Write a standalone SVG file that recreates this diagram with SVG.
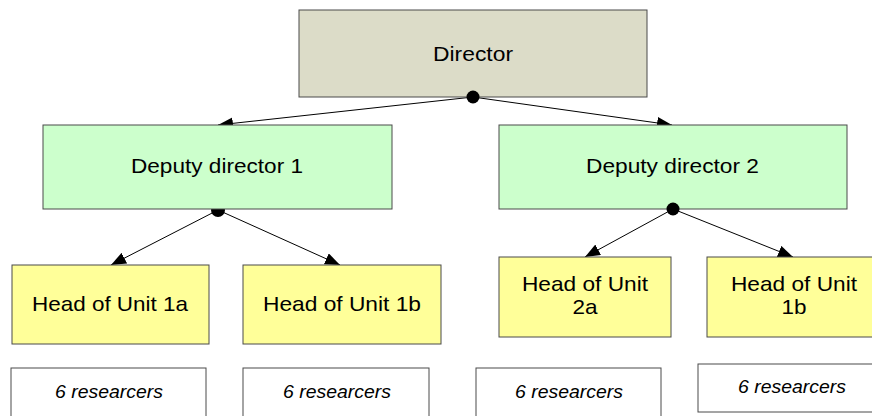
<svg xmlns="http://www.w3.org/2000/svg" width="872" height="416" viewBox="0 0 872 416">
  <style>
    .box { stroke: #4a4a4a; stroke-width: 1; }
    .dir { fill: #dcdcc8; }
    .dep { fill: #ccffcc; }
    .head { fill: #ffff99; }
    .res { fill: #ffffff; }
    .lbl { font-family: "Liberation Sans", Arial, sans-serif; font-size: 21px; fill: #000; text-anchor: middle; }
    .rl { font-family: "Liberation Sans", Arial, sans-serif; font-size: 17.5px; font-style: italic; fill: #000; text-anchor: middle; }
    .conn { stroke: #000; stroke-width: 1; fill: none; marker-end: url(#arr); }
    .dot { fill: #000; }
  </style>
  <defs>
    <marker id="arr" viewBox="0 0 15 12" refX="15" refY="6" markerWidth="15" markerHeight="12" markerUnits="userSpaceOnUse" orient="auto">
      <path d="M0,0 L15,6 L0,12 Z" fill="#000"/>
    </marker>
  </defs>
  <rect width="872" height="416" fill="#ffffff"/>
  <g id="connectors">
    <line class="conn" x1="473" y1="97" x2="218" y2="125"/>
    <line class="conn" x1="473" y1="97" x2="672" y2="125"/>
    <line class="conn" x1="218" y1="210" x2="111" y2="265"/>
    <line class="conn" x1="218" y1="210" x2="340" y2="265"/>
    <line class="conn" x1="673" y1="209" x2="585" y2="257"/>
    <line class="conn" x1="673" y1="209" x2="793" y2="257"/>
    <circle class="dot" cx="218" cy="210" r="7"/>
  </g>
  <g id="director">
    <rect class="box dir" x="299" y="10" width="348" height="87"/>
    <text class="lbl" x="473" y="61" textLength="80" lengthAdjust="spacingAndGlyphs">Director</text>
  </g>
  <g id="deputy1">
    <rect class="box dep" x="43" y="125" width="349" height="84"/>
    <text class="lbl" x="217" y="173" textLength="172" lengthAdjust="spacingAndGlyphs">Deputy director 1</text>
  </g>
  <g id="deputy2">
    <rect class="box dep" x="499" y="125" width="348" height="84"/>
    <text class="lbl" x="672.5" y="173" textLength="173" lengthAdjust="spacingAndGlyphs">Deputy director 2</text>
  </g>
  <g id="head1a">
    <rect class="box head" x="12" y="265" width="197" height="79"/>
    <text class="lbl" x="110" y="311" textLength="156" lengthAdjust="spacingAndGlyphs">Head of Unit 1a</text>
  </g>
  <g id="head1b">
    <rect class="box head" x="243" y="265" width="198" height="79"/>
    <text class="lbl" x="342" y="311" textLength="158" lengthAdjust="spacingAndGlyphs">Head of Unit 1b</text>
  </g>
  <g id="head2a">
    <rect class="box head" x="499" y="257" width="172" height="80"/>
    <text class="lbl" x="585" y="291" textLength="126" lengthAdjust="spacingAndGlyphs">Head of Unit</text>
    <text class="lbl" x="585" y="314" textLength="25" lengthAdjust="spacingAndGlyphs">2a</text>
  </g>
  <g id="head2b">
    <rect class="box head" x="707" y="257" width="173" height="80"/>
    <text class="lbl" x="794" y="291" textLength="126" lengthAdjust="spacingAndGlyphs">Head of Unit</text>
    <text class="lbl" x="794" y="314" textLength="25" lengthAdjust="spacingAndGlyphs">1b</text>
  </g>
  <g id="res1">
    <rect class="box res" x="11" y="368" width="195" height="60"/>
    <text class="rl" x="109" y="398" textLength="108" lengthAdjust="spacingAndGlyphs">6 researcers</text>
  </g>
  <g id="res2">
    <rect class="box res" x="243" y="368" width="186" height="60"/>
    <text class="rl" x="337" y="398" textLength="108" lengthAdjust="spacingAndGlyphs">6 researcers</text>
  </g>
  <g id="res3">
    <rect class="box res" x="476" y="368" width="185" height="60"/>
    <text class="rl" x="569" y="398" textLength="108" lengthAdjust="spacingAndGlyphs">6 researcers</text>
  </g>
  <g id="res4">
    <rect class="box res" x="698" y="364" width="188" height="48"/>
    <text class="rl" x="792" y="393" textLength="108" lengthAdjust="spacingAndGlyphs">6 researcers</text>
  </g>
  <g id="junctions">
    <circle class="dot" cx="473" cy="97" r="6.5"/>
    <circle class="dot" cx="673" cy="209" r="6.5"/>
  </g>
</svg>
